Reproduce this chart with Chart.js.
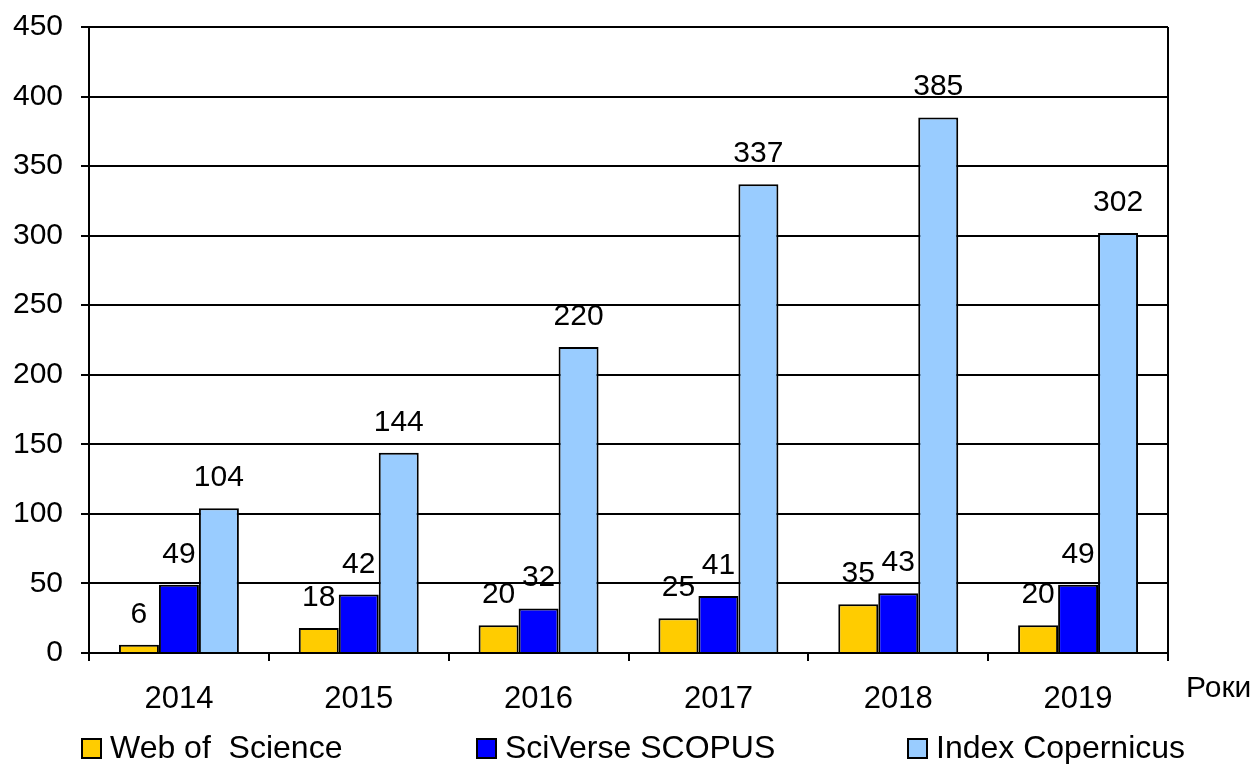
<!DOCTYPE html>
<html>
<head>
<meta charset="utf-8">
<script src="https://cdn.jsdelivr.net/npm/chart.js@4/dist/chart.umd.min.js"></script>
<style>
html,body{margin:0;padding:0;background:#fff;}
#wrap{width:1257px;height:764px;position:relative;}
</style>
</head>
<body>
<div id="wrap"><canvas id="c" width="1257" height="764"></canvas></div>
<script>
const categories = ['2014', '2015', '2016', '2017', '2018', '2019'];
const webOfScience = [6, 18, 20, 25, 35, 20];
const scopus = [49, 42, 32, 41, 43, 49];
const copernicus = [104, 144, 220, 337, 385, 302];
const seriesNames = ['Web of  Science', 'SciVerse SCOPUS', 'Index Copernicus'];
const seriesColors = ['#FFCC00', '#0000FF', '#99CCFF'];
const yTicks = [0, 50, 100, 150, 200, 250, 300, 350, 400, 450];
const xTitle = 'Роки';

const FONT = '"Liberation Sans", Arial, sans-serif';

const extras = {
  id: 'extras',
  afterDatasetsDraw(chart) {
    const ctx = chart.ctx;
    const ca = chart.chartArea;
    ctx.save();
    // right border
    ctx.strokeStyle = '#000';
    ctx.lineWidth = 2;
    ctx.beginPath();
    ctx.moveTo(ca.right, ca.top);
    ctx.lineTo(ca.right, ca.bottom);
    ctx.stroke();
    // data labels
    ctx.fillStyle = '#000';
    ctx.font = '30px ' + FONT;
    ctx.textAlign = 'center';
    ctx.textBaseline = 'alphabetic';
    chart.data.datasets.forEach((ds, i) => {
      const meta = chart.getDatasetMeta(i);
      meta.data.forEach((el, j) => {
        ctx.fillText(String(ds.data[j]), el.x, el.y - 22);
      });
    });
    // x title
    ctx.textAlign = 'left';
    ctx.font = '30px ' + FONT;
    ctx.fillText(xTitle, ca.right + 18, ca.bottom + 44);
    // legend
    const legendX = [82, 477, 908];
    const ly = 748;
    ctx.font = '32px ' + FONT;
    ctx.textBaseline = 'middle';
    chart.data.datasets.forEach((ds, i) => {
      const x = legendX[i];
      ctx.fillStyle = ds.backgroundColor;
      ctx.fillRect(x, ly - 9, 19, 19);
      ctx.strokeStyle = '#000';
      ctx.lineWidth = 2;
      ctx.strokeRect(x, ly - 9, 19, 19);
      ctx.fillStyle = '#000';
      ctx.fillText(ds.label, x + 28, ly + 1);
    });
    ctx.restore();
  }
};

new Chart(document.getElementById('c'), {
  type: 'bar',
  data: {
    labels: categories,
    datasets: [webOfScience, scopus, copernicus].map((d, i) => ({
      label: seriesNames[i],
      data: d,
      backgroundColor: seriesColors[i],
      borderColor: '#000',
      borderWidth: 2,
      borderSkipped: 'bottom',
      categoryPercentage: 0.667,
      barPercentage: 1.0
    }))
  },
  options: {
    responsive: false,
    animation: false,
    devicePixelRatio: 1,
    layout: { padding: { top: 27, right: 89, left: 0, bottom: 0 } },
    plugins: { legend: { display: false }, tooltip: { enabled: false } },
    scales: {
      x: {
        afterFit(s) { s.height = 111; s.paddingLeft = 0; s.paddingRight = 0; },
        grid: { offset: true, drawOnChartArea: false, drawTicks: true, tickLength: 8, color: '#000', lineWidth: 2 },
        border: { color: '#000', width: 2 },
        ticks: { color: '#000', font: { family: FONT, size: 31 }, padding: 20 }
      },
      y: {
        min: 0, max: 450,
        afterFit(s) { s.width = 89; s.paddingTop = 0; s.paddingBottom = 0; },
        afterBuildTicks(s) { s.ticks = yTicks.map(v => ({ value: v })); },
        grid: { color: '#000', lineWidth: 2, tickLength: 8 },
        border: { color: '#000', width: 2 },
        ticks: { color: '#000', font: { family: FONT, size: 30 }, padding: 18 }
      }
    }
  },
  plugins: [extras]
});
</script>
</body>
</html>
